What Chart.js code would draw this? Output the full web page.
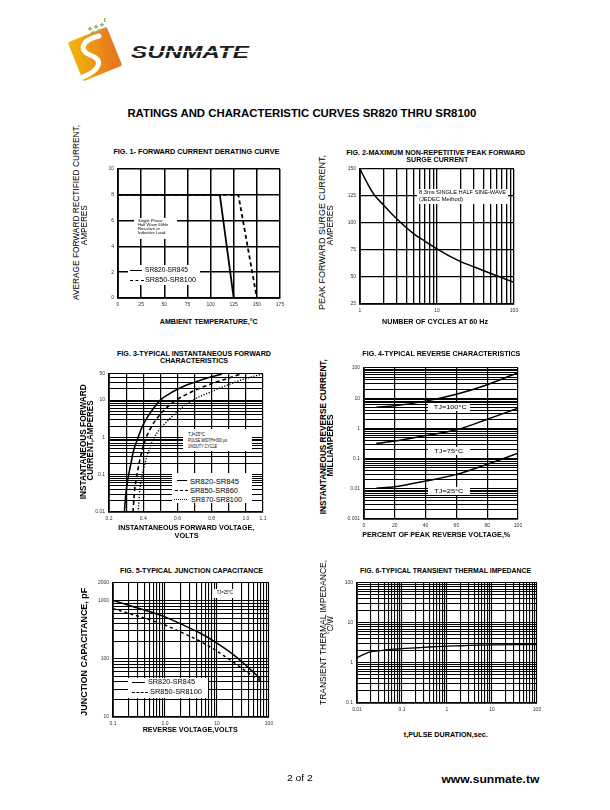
<!DOCTYPE html>
<html><head><meta charset="utf-8">
<script src="https://cdn.jsdelivr.net/npm/chart.js@4.4.1/dist/chart.umd.min.js"></script>
<style>
html,body{margin:0;padding:0;background:#fff;}
body{width:610px;height:810px;position:relative;overflow:hidden;font-family:"Liberation Sans",Arial,sans-serif;color:#000;}
.t{position:absolute;white-space:nowrap;line-height:1;transform-origin:50% 50%;}
.box{position:absolute;background:#fff;}
canvas{position:absolute;}
</style></head><body>
<svg id="logo" style="position:absolute;left:60px;top:15px" width="200" height="70" viewBox="60 15 200 70">
<defs><linearGradient id="lg" x1="0" y1="0" x2="1" y2="0.3"><stop offset="0" stop-color="#f4b80c"/><stop offset="1" stop-color="#e67a1e"/></linearGradient></defs>
<g transform="rotate(-22 95 54)"><rect x="74" y="33" width="42" height="42" rx="2" fill="url(#lg)"/></g>
<path d="M99 36 C 82 40, 78 50, 90 55 C 104 60, 100 70, 83 77" stroke="#fff" stroke-width="5" fill="none" stroke-linecap="round"/>
<g fill="#a8ad58">
<rect x="88" y="28" width="4" height="1.4"/><rect x="89.3" y="26.7" width="1.4" height="4"/>
<rect x="94" y="26" width="4" height="1.4"/><rect x="95.3" y="24.7" width="1.4" height="4"/>
<rect x="100" y="24" width="4" height="1.4"/><rect x="101.3" y="22.7" width="1.4" height="4"/>
<rect x="91" y="32" width="4" height="1.4"/><rect x="92.3" y="30.7" width="1.4" height="4"/>
<rect x="97" y="30" width="4" height="1.4"/><rect x="98.3" y="28.7" width="1.4" height="4"/>
<rect x="103" y="28" width="3" height="1.4"/><rect x="104" y="18" width="1.4" height="4"/>
</g>
<text x="131" y="58" font-family="Liberation Sans" font-weight="bold" font-style="italic" font-size="17" textLength="118" lengthAdjust="spacingAndGlyphs" fill="#1e1e1e">SUNMATE</text>
<rect x="130" y="51" width="122" height="1" fill="#fff"/>
</svg>
<script>
// ================= DATA =================
const fig1TempA = [0, 110, 125];
const fig1CurrA = [8, 8, 0];
const fig1TempB = [0, 130, 150];
const fig1CurrB = [8, 8, 0];
const fig1XTicks = ['0','25','50','75','100','125','150','175'];
const fig1YTicks = ['0','2','4','6','8','10'];

const fig2Cycles = [1, 1.2, 1.5, 2, 3, 5, 7, 10, 15, 20, 30, 50, 70, 100];
const fig2Surge  = [150, 139, 127, 117, 104, 90, 83, 76, 68.8, 64.5, 59.5, 53.3, 49.3, 45];
const fig2XTicks = ['1','10','100'];
const fig2YTicks = ['25','50','75','100','125','150'];

const fig3VoltA = [0.29, 0.295, 0.30, 0.31, 0.33, 0.34, 0.37, 0.40, 0.45, 0.50, 0.55, 0.60, 0.65, 0.70, 0.80, 0.86];
const fig3CurrA = [0.01, 0.02, 0.035, 0.075, 0.22, 0.38, 1, 2.2, 5.2, 10, 14.5, 19.5, 25, 30, 42, 50];
const fig3VoltB = [0.34, 0.345, 0.35, 0.36, 0.38, 0.41, 0.45, 0.50, 0.55, 0.60, 0.65, 0.70, 0.80, 0.90, 0.97];
const fig3CurrB = [0.01, 0.02, 0.04, 0.08, 0.25, 0.8, 2, 4.2, 7.1, 10.5, 14, 18.2, 27.5, 39, 50];
const fig3VoltC = [0.37, 0.375, 0.38, 0.39, 0.41, 0.44, 0.48, 0.55, 0.62, 0.69, 0.80, 0.90, 1.0, 1.1];
const fig3CurrC = [0.01, 0.02, 0.04, 0.08, 0.2, 0.55, 1.3, 3, 6, 10, 17, 26, 38, 50];
const fig3XGrid  = [0.2, 0.3, 0.4, 0.5, 0.6, 0.7, 0.8, 0.9, 1.0, 1.1];
const fig3XTicks = ['0.2','0.4','0.6','0.8','1.0','1.1'];
const fig3YTicks = ['0.01','0.1','1','10','50'];

const fig4Percent = [8, 20, 40, 60, 80, 100];
const fig4Tj100 = [5, 5.6, 8, 13.5, 28, 70];
const fig4Tj75  = [0.32, 0.38, 0.58, 0.9, 2.0, 4.7];
const fig4Tj25  = [0.0104, 0.0117, 0.018, 0.03, 0.065, 0.15];
const fig4XTicks = ['0','20','40','60','80','100'];
const fig4YTicks = ['0.001','0.01','0.1','1','10','100'];

const fig5Volts = [0.1, 0.2, 0.5, 1, 2, 5, 10, 20, 30, 50, 70];
const fig5CapA  = [1000, 832, 646, 525, 398, 269, 186, 120, 89, 59, 44];
const fig5CapB  = [724, 603, 468, 380, 288, 195, 135, 89, 69, 50, 41];
const fig5XTicks = ['0.1','1.0','10','100'];
const fig5YTicks = ['10','100','1000','2000'];

const fig6Time = [0.01, 0.015, 0.02, 0.03, 0.05, 0.1, 0.2, 0.5, 1, 2, 5, 10, 100];
const fig6Imp  = [1.35, 1.7, 1.9, 2.0, 2.15, 2.3, 2.4, 2.55, 2.65, 2.7, 2.8, 2.85, 2.9];
const fig6XTicks = ['0.01','0.1','1','10','100'];
const fig6YTicks = ['0.1','1','10','100'];

// ================= HELPERS =================
const YW = 30, XH = 14, PT = 8, PR = 10, PB = 2;
const FONT = 'Liberation Sans';

function logGrid(lo, hi) {
  const out = [];
  for (let e = Math.floor(Math.log10(lo)); e <= Math.ceil(Math.log10(hi)); e++) {
    for (let k = 1; k <= 9; k++) {
      const v = Number((k * Math.pow(10, e)).toPrecision(6));
      if (v >= lo * 0.9999 && v <= hi * 1.0001) out.push(v);
    }
  }
  return out;
}

function scaleOpts(axis, type, min, max, gridVals, labels, gw) {
  const lv = labels.map(parseFloat);
  return {
    type, min, max,
    afterBuildTicks(s) { s.ticks = gridVals.map(v => ({ value: v })); },
    afterFit(s) { if (axis === 'x') s.height = XH; else s.width = YW; },
    ticks: {
      autoSkip: false, maxRotation: 0, minRotation: 0,
      padding: 4, color: '#333',
      font: { family: FONT, size: 5 },
      callback(v) {
        const i = lv.findIndex(q => Math.abs(q - v) <= Math.abs(q) * 1e-6 + 1e-12);
        return i >= 0 ? labels[i] : '';
      }
    },
    grid: { color: '#000', lineWidth: gw || 1.1, drawTicks: false },
    border: { color: '#000', width: 1.8 }
  };
}

function ds(xs, ys, dash, opts) {
  return Object.assign({
    data: xs.map((x, i) => ({ x, y: ys[i] })),
    borderColor: '#000', borderWidth: 1.6, borderDash: dash || [],
    pointRadius: 0, fill: false, tension: 0.4, cubicInterpolationMode: 'monotone'
  }, opts || {});
}

function makeChart(box, xs, ys, datasets) {
  const cv = document.createElement('canvas');
  const w = box.r - box.l + YW + PR, h = box.b - box.t + PT + XH + PB;
  cv.width = w; cv.height = h;
  cv.style.width = w + 'px'; cv.style.height = h + 'px';
  cv.style.left = (box.l - YW) + 'px'; cv.style.top = (box.t - PT) + 'px';
  document.body.appendChild(cv);
  const ch = new Chart(cv, {
    type: 'line',
    data: { datasets },
    options: {
      responsive: false, animation: false, devicePixelRatio: 1,
      layout: { padding: { left: 0, top: PT, right: PR, bottom: PB } },
      plugins: { legend: { display: false }, tooltip: { enabled: false } },
      scales: { x: xs, y: ys }
    }
  });
  const a = ch.chartArea;
  cv.style.left = (box.l - a.left) + 'px';
  cv.style.top = (box.t - a.top) + 'px';
  return ch;
}

function T(s, x, y, o) {
  o = o || {};
  const d = document.createElement('div');
  d.className = 't'; d.textContent = s;
  d.style.fontSize = (o.size || 6.5) + 'px';
  if (o.bold) d.style.fontWeight = 'bold';
  document.body.appendChild(d);
  const r = d.getBoundingClientRect();
  const nw = r.width, nh = r.height;
  const k = o.w ? o.w / nw : 1;
  if (o.align === 'l') { d.style.left = x + 'px'; d.style.transformOrigin = '0 50%'; }
  else d.style.left = (x - nw / 2) + 'px';
  d.style.top = (y - nh / 2) + 'px';
  d.style.transform = (o.rot ? 'rotate(-90deg) ' : '') + 'scaleX(' + k + ')';
  return d;
}
function rect(l, t, w, h) {
  const d = document.createElement('div'); d.className = 'box';
  Object.assign(d.style, { left: l + 'px', top: t + 'px', width: w + 'px', height: h + 'px' });
  document.body.appendChild(d);
}
function hline(x1, x2, y, style, wid) {
  wid = wid || 1.3;
  const d = document.createElement('div');
  Object.assign(d.style, { position: 'absolute', left: x1 + 'px', top: (y - wid / 2) + 'px', width: (x2 - x1) + 'px', height: '0px', borderTop: wid + 'px ' + style + ' #000' });
  document.body.appendChild(d);
}

// ================= CHARTS =================
// Fig 1
makeChart({ l: 118, t: 169, r: 280, b: 298 },
  scaleOpts('x', 'linear', 0, 175, fig1XTicks.map(parseFloat), fig1XTicks, 1.5),
  scaleOpts('y', 'linear', 0, 10, fig1YTicks.map(parseFloat), fig1YTicks, 1.5),
  [ds(fig1TempA, fig1CurrA, [], { tension: 0, cubicInterpolationMode: 'default', borderWidth: 1.8 }),
   ds(fig1TempB, fig1CurrB, [4, 3], { tension: 0, cubicInterpolationMode: 'default', borderWidth: 1.8 })]);

// Fig 2
makeChart({ l: 360, t: 169, r: 514, b: 304 },
  scaleOpts('x', 'logarithmic', 1, 100, logGrid(1, 100), fig2XTicks, 1.3),
  scaleOpts('y', 'linear', 25, 150, fig2YTicks.map(parseFloat), fig2YTicks, 1.3),
  [ds(fig2Cycles, fig2Surge, [], { borderWidth: 1.5 })]);

// Fig 3
makeChart({ l: 109, t: 374, r: 263, b: 512 },
  scaleOpts('x', 'linear', 0.2, 1.1, fig3XGrid, fig3XTicks, 1.2),
  scaleOpts('y', 'logarithmic', 0.01, 50, logGrid(0.01, 50), fig3YTicks, 1.1),
  [ds(fig3VoltA, fig3CurrA, [], { borderWidth: 1.6 }),
   ds(fig3VoltB, fig3CurrB, [4, 3], { borderWidth: 1.6 }),
   ds(fig3VoltC, fig3CurrC, [1.2, 1.6], { borderWidth: 1.4 })]);

// Fig 4
makeChart({ l: 364, t: 368, r: 518, b: 519 },
  scaleOpts('x', 'linear', 0, 100, fig4XTicks.map(parseFloat), fig4XTicks, 1.2),
  scaleOpts('y', 'logarithmic', 0.001, 100, logGrid(0.001, 100), fig4YTicks, 1.1),
  [ds(fig4Percent, fig4Tj100, [], { borderWidth: 1.5 }),
   ds(fig4Percent, fig4Tj75, [], { borderWidth: 1.5 }),
   ds(fig4Percent, fig4Tj25, [], { borderWidth: 1.5 })]);

// Fig 5
makeChart({ l: 113, t: 583, r: 269, b: 717 },
  scaleOpts('x', 'logarithmic', 0.1, 100, logGrid(0.1, 100), fig5XTicks, 1.1),
  scaleOpts('y', 'logarithmic', 10, 2000, logGrid(10, 2000), fig5YTicks, 1.1),
  [ds(fig5Volts, fig5CapA, [], { borderWidth: 1.5 }),
   ds(fig5Volts, fig5CapB, [3, 3], { borderWidth: 1.5 })]);

// Fig 6
makeChart({ l: 357, t: 583, r: 537, b: 703 },
  scaleOpts('x', 'logarithmic', 0.01, 100, logGrid(0.01, 100), fig6XTicks, 1.1),
  scaleOpts('y', 'logarithmic', 0.1, 100, logGrid(0.1, 100), fig6YTicks, 1.1),
  [ds(fig6Time, fig6Imp, [], { borderWidth: 1.3 })]);

// ================= OVERLAYS / TEXT =================
T('RATINGS AND CHARACTERISTIC CURVES SR820 THRU SR8100', 301.5, 113, { size: 11, bold: 1, w: 349 });

// Fig 1 texts
T('FIG. 1- FORWARD CURRENT DERATING CURVE', 196, 152, { bold: 1, w: 166 });
T('AMBIENT TEMPERATURE,°C', 209, 322, { bold: 1, w: 98 });
T('AVERAGE FORWARD RECTIFIED CURRENT,', 76.5, 212.5, { size: 9, rot: 1, w: 175 });
T('AMPERES', 83.5, 225, { size: 8.5, rot: 1, w: 40 });
rect(134, 218, 43, 21);
T('Single Phase', 138, 221, { size: 4.2, align: 'l' });
T('Half Wave 60Hz', 138, 225, { size: 4.2, align: 'l' });
T('Resistive or', 138, 229, { size: 4.2, align: 'l' });
T('Inductive Load', 138, 233, { size: 4.2, align: 'l' });
rect(128, 265, 72, 20);
hline(130, 142, 270.7, 'solid');
T('SR820-SR845', 145, 270.7, { size: 6.6, align: 'l', w: 43 });
hline(130, 144, 280.3, 'dashed');
T('SR850-SR8100', 145, 280.3, { size: 6.6, align: 'l', w: 51 });

// Fig 2 texts
T('FIG. 2-MAXIMUM NON-REPETITIVE PEAK FORWARD', 435.5, 153, { bold: 1, w: 179 });
T('SURGE CURRENT', 437, 160, { bold: 1, w: 62 });
T('NUMBER OF CYCLES AT 60 Hz', 435, 322, { bold: 1, w: 106 });
T('PEAK  FORWARD SURGE CURRENT,', 323, 232, { size: 9, rot: 1, w: 155 });
T('AMPERES', 330, 225, { size: 8.5, rot: 1, w: 40 });
rect(417, 189, 91, 15);
T('8.3ms SINGLE HALF SINE-WAVE', 418.5, 192.7, { size: 5, align: 'l', w: 87 });
T('(JEDEC Method)', 418.5, 199.3, { size: 5, align: 'l', w: 44 });

// Fig 3 texts
T('FIG. 3-TYPICAL INSTANTANEOUS FORWARD', 194, 354, { bold: 1, w: 154 });
T('CHARACTERISTICS', 194, 361, { bold: 1, w: 68 });
T('INSTANTANEOUS FORWARD VOLTAGE,', 186, 528, { bold: 1, w: 136 });
T('VOLTS', 187, 536, { bold: 1, w: 24 });
T('INSTANTANEOUS FORWARD', 83, 442, { size: 9.5, bold: 1, rot: 1, w: 115 });
T('CURRENT,AMPERES', 90, 440, { size: 9, bold: 1, rot: 1, w: 80 });
rect(183, 429, 69, 22);
T('TJ=25°C', 188, 434, { size: 5, align: 'l', w: 17 });
T('PULSE WIDTH=300 μs', 188, 440, { size: 5, align: 'l', w: 39 });
T('1%DUTY CYCLE', 188, 446, { size: 5, align: 'l', w: 29 });
rect(172, 473, 80, 30);
hline(177, 187, 481, 'solid');
T('SR820-SR845', 189.5, 481, { size: 7, align: 'l', w: 49 });
hline(175, 188, 490.5, 'dashed');
T('SR850-SR860', 189.5, 490.5, { size: 7, align: 'l', w: 48 });
hline(174, 187, 499.5, 'dotted');
T('SR870-SR8100', 191, 499.5, { size: 7, align: 'l', w: 51 });

// Fig 4 texts
T('FIG. 4-TYPICAL REVERSE CHARACTERISTICS', 441, 354, { bold: 1, w: 158 });
T('PERCENT OF PEAK REVERSE VOLTAGE,%', 436, 535, { bold: 1, w: 148 });
T('INSTANTANEOUS REVERSE CURRENT,', 323, 437, { size: 9.5, bold: 1, rot: 1, w: 155 });
T('MILLIAMPERES', 330, 445, { size: 9, bold: 1, rot: 1, w: 62 });
rect(428, 403, 42, 8); T('TJ=100°C', 450, 407, { size: 5, w: 33 });
rect(428, 447, 42, 8); T('TJ=75°C', 449, 451, { size: 5, w: 29 });
rect(428, 487, 42, 8); T('TJ=25°C', 449, 491, { size: 5, w: 29 });

// Fig 5 texts
T('FIG. 5-TYPICAL JUNCTION CAPACITANCE', 191.5, 571, { bold: 1, w: 143 });
T('REVERSE VOLTAGE,VOLTS', 190.5, 730, { bold: 1, w: 95 });
T('JUNCTION CAPACITANCE, pF', 84, 652, { size: 9.5, bold: 1, rot: 1, w: 128 });
rect(128, 678, 80, 20);
hline(132, 145, 682.3, 'solid');
T('SR820-SR845', 148, 682.3, { size: 6.6, align: 'l', w: 47 });
hline(132, 148, 692.3, 'dashed');
T('SR850-SR8100', 150, 692.3, { size: 6.6, align: 'l', w: 52 });
rect(214, 589, 22, 9); T('TJ=25°C', 225, 593.3, { size: 4.5, w: 16 });

// Fig 6 texts
T('FIG. 6-TYPICAL TRANSIENT THERMAL IMPEDANCE', 445.5, 571, { bold: 1, w: 171 });
T('t,PULSE DURATION,sec.', 446, 735, { bold: 1, w: 84 });
T('TRANSIENT THERMAL IMPEDANCE,', 323, 632, { size: 9, rot: 1, w: 145 });
T('°C/W', 330, 625, { size: 8.5, rot: 1, w: 18 });

// Footer
T('2 of 2', 300, 778, { size: 9.5, w: 26 });
T('www.sunmate.tw', 490, 779, { size: 10.5, bold: 1, w: 98 });
</script>
</body></html>
